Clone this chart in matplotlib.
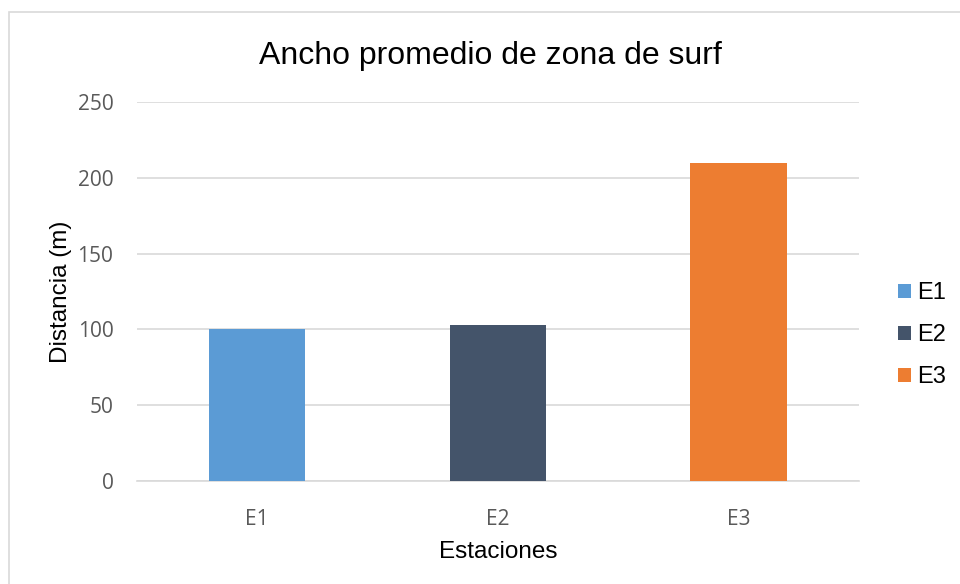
import matplotlib.pyplot as plt
from matplotlib.patches import Rectangle

estaciones = ["E1", "E2", "E3"]
distancia = [100, 103, 210]
colores = ["#5B9BD5", "#44546A", "#ED7D31"]
yticks = [0, 50, 100, 150, 200, 250]

fig = plt.figure(figsize=(9.6, 5.84), dpi=100)
ax = fig.add_axes([0.1427, 0.1764, 0.752, 0.649])

# chart frame
fig.patches.append(Rectangle((9 / 960, -0.01), 1.0, 1 - 12 / 584 + 0.01,
                             transform=fig.transFigure, fill=False,
                             edgecolor="#D9D9D9", linewidth=1.2))

x = range(len(estaciones))
bars = ax.bar(x, distancia, width=0.4, color=colores, zorder=3)

ax.set_xlim(-0.5, 2.5)
ax.set_ylim(0, 250)
ax.set_yticks(yticks)
ax.set_xticks(list(x))
ax.set_xticklabels(estaciones)
ax.yaxis.grid(True, color="#D9D9D9", linewidth=1.2, zorder=0)
for s in ["top", "right", "left"]:
    ax.spines[s].set_visible(False)
ax.spines["bottom"].set_color("#D9D9D9")
ax.spines["bottom"].set_linewidth(1.2)
ax.tick_params(length=0, labelcolor="#595959", labelsize=15)
ax.tick_params(axis="x", pad=20)
ax.tick_params(axis="y", pad=17)
for lab in ax.get_xticklabels() + ax.get_yticklabels():
    lab.set_family("Open Sans")

ax.set_title("Ancho promedio de zona de surf", family="Liberation Sans",
             fontsize=23, pad=27, x=0.489)
ax.set_ylabel("Distancia (m)", family="Liberation Sans", fontsize=17.5, labelpad=4)
ax.set_xlabel("Estaciones", family="Liberation Sans", fontsize=17.5, labelpad=8)

leg = ax.legend(bars, estaciones, loc="center left", bbox_to_anchor=(1.025, 0.385),
                frameon=False, prop={"family": "Liberation Sans", "size": 17},
                handlelength=0.55, handleheight=0.55, handletextpad=0.25,
                labelspacing=0.85)

fig.savefig("out.png", dpi=100)
